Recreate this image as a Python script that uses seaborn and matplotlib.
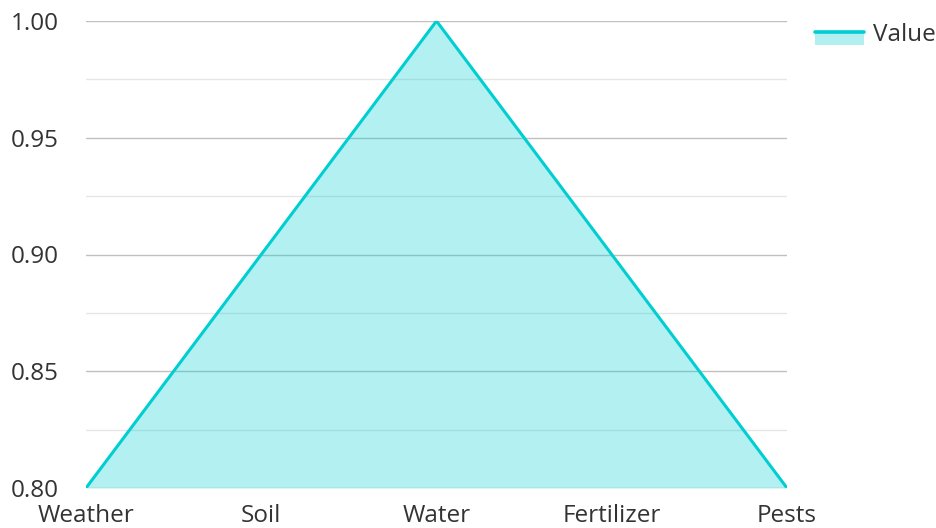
import matplotlib
matplotlib.use("Agg")
import matplotlib.pyplot as plt
import seaborn as sns
import pandas as pd
from matplotlib.lines import Line2D
from matplotlib.patches import Rectangle
from matplotlib.legend_handler import HandlerBase

categories = ["Weather", "Soil", "Water", "Fertilizer", "Pests"]
values = [0.80, 0.90, 1.00, 0.90, 0.80]
y_ticks = [0.80, 0.85, 0.90, 0.95, 1.00]
y_tick_labels = ["0.80", "0.85", "0.90", "0.95", "1.00"]
series_name = "Value"

sns.set_theme(style="white")
plt.rcParams['font.family'] = ['Open Sans', 'DejaVu Sans']

color = "#00CED1"
fill_color = "#B2EFF0"
df = pd.DataFrame({"x": range(len(categories)), "y": values})

fig = plt.figure(figsize=(9.36, 5.28), dpi=100)
ax = fig.add_axes([86/936, 40/528, (787-86)/936, (488-21)/528])

ax.fill_between(df["x"], 0.80, df["y"], color=color, alpha=0.3, linewidth=0, zorder=2)
sns.lineplot(data=df, x="x", y="y", ax=ax, color=color, linewidth=2.2, zorder=3)

ax.set_xlim(0, len(categories) - 1)
ax.set_ylim(0.80, 1.00)
ax.set_yticks(y_ticks)
ax.set_yticklabels(y_tick_labels)
ax.set_yticks([0.825, 0.875, 0.925, 0.975], minor=True)
ax.set_xticks(range(len(categories)))
ax.set_xticklabels(categories)
ax.grid(True, axis="y", which="major", color="#c0c0c0", linewidth=1, zorder=1)
ax.grid(True, axis="y", which="minor", color="#e6e6e6", linewidth=1, zorder=1)
ax.grid(False, axis="x")
ax.set_axisbelow(True)
for s in ax.spines.values():
    s.set_visible(False)
ax.tick_params(axis="both", which="both", length=0, labelsize=17.5, colors="#333333")
ax.tick_params(axis="y", pad=19.5)
ax.tick_params(axis="x", pad=11.5)
ax.set_xlabel("")
ax.set_ylabel("")


class AreaHandler(HandlerBase):
    def create_artists(self, legend, orig_handle, xdescent, ydescent,
                       width, height, fontsize, trans):
        yc = -ydescent + height / 2.0
        rect = Rectangle((-xdescent, yc - 9), width, 9, facecolor=fill_color,
                         edgecolor="none", transform=trans)
        line = Line2D([-xdescent, -xdescent + width], [yc, yc], color=color,
                      linewidth=2.6, transform=trans)
        return [rect, line]


proxy = Line2D([0], [0], color=color)
leg = fig.legend([proxy], [series_name], loc="upper right",
                 bbox_to_anchor=(1.0, 1 - 23/528), frameon=False, fontsize=17.5,
                 handlelength=2.0, handletextpad=0.4, borderaxespad=0, borderpad=0,
                 labelcolor="#333333", handler_map={Line2D: AreaHandler()})

fig.savefig("out.png", dpi=100)
